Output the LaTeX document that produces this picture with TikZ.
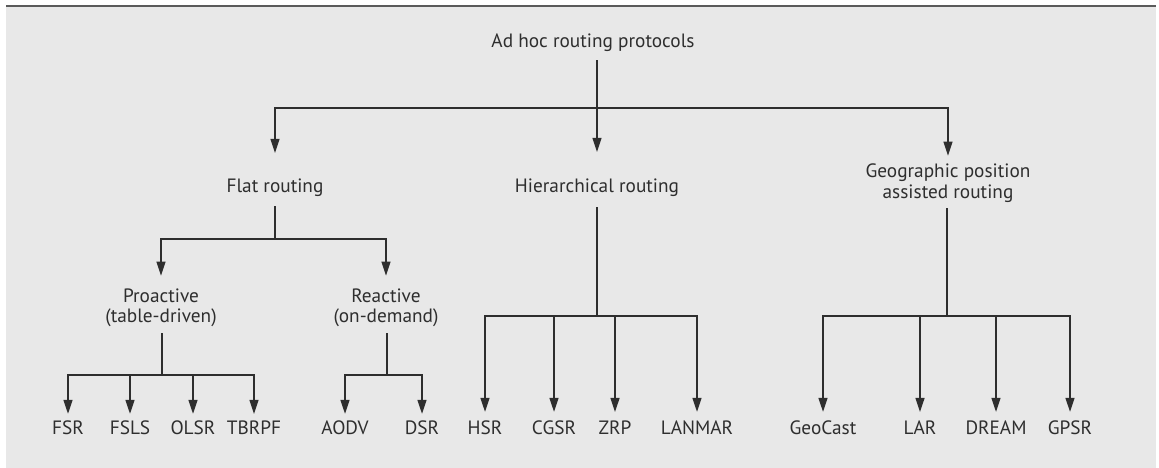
\documentclass[tikz,border=0pt]{standalone}
\usepackage{fontspec}
\setmainfont{PT Sans}
\usetikzlibrary{arrows.meta}
\definecolor{panel}{HTML}{E8E8E8}
\definecolor{ink}{HTML}{2E2E2E}
\definecolor{rule}{HTML}{5A5A5A}
\begin{document}
\begin{tikzpicture}[x=1pt,y=-1pt,
  lbl/.style={text=ink,font=\fontsize{19.3}{20.5}\selectfont,inner sep=0pt,align=center},
  link/.style={draw=ink,line width=1.3pt},
  arr/.style={link,-{Triangle[width=9pt,length=14pt]}}]
  % page and panel
  \useasboundingbox (0,0) rectangle (1159,468);
  \fill[white] (0,0) rectangle (1159,468);
  \fill[panel] (6,7) rectangle (1156,468);
  \draw[rule,line width=2pt] (6,6) -- (1156,6);

  % labels
  \node[lbl] (root) at (593,43) {Ad hoc routing protocols};
  \node[lbl] (flat) at (275,188) {Flat routing};
  \node[lbl] (hier) at (597,188) {Hierarchical routing};
  \node[lbl] (geo)  at (948,183) {Geographic position\\assisted routing};
  \node[lbl] (pro)  at (161,308) {Proactive\\(table-driven)};
  \node[lbl] (rea)  at (386,308) {Reactive\\(on-demand)};
  \foreach \n/\x in {FSR/68,FSLS/130,OLSR/193,TBRPF/254,AODV/345,DSR/422,
                     HSR/485,CGSR/554,ZRP/615,LANMAR/697,
                     GeoCast/823,LAR/920,DREAM/996,GPSR/1070}
    \node[lbl] (\n) at (\x,428) {\n};

  % junction points of the bars
  \coordinate (j0) at (597,108);
  \coordinate (jf) at (275,239);
  \coordinate (jh) at (597,316);
  \coordinate (jg) at (947,316);
  \coordinate (jp) at (162,375);
  \coordinate (jr) at (387,375);

  % top level
  \draw[link] (root.south -| j0) ++(0,8) -- (j0);
  \draw[arr,shorten >=26pt] (j0) -| (flat.north);
  \draw[arr,shorten >=27pt] (j0) -- (hier.north);
  \draw[arr,shorten >=8pt] (j0) -| (geo.north);

  % flat routing
  \draw[link] (flat.south -| jf) ++(0,9) -- (jf);
  \draw[arr,shorten >=13pt] (jf) -| (pro.north);
  \draw[arr,shorten >=13pt] (jf) -| (rea.north);

  % proactive and reactive
  \draw[link] (pro.south -| jp) ++(0,6) -- (jp);
  \foreach \c in {FSR,FSLS,OLSR,TBRPF}
    \draw[arr,shorten >=7pt] (jp) -| (\c.north);
  \draw[link] (rea.south -| jr) ++(0,6) -- (jr);
  \foreach \c in {AODV,DSR}
    \draw[arr,shorten >=7pt] (jr) -| (\c.north);

  % hierarchical routing
  \draw[link] (hier.south -| jh) ++(0,10) -- (jh);
  \foreach \c in {HSR,CGSR,ZRP,LANMAR}
    \draw[arr,shorten >=9pt] (jh) -| (\c.north);

  % geographic position assisted routing
  \draw[link] (geo.south -| jg) ++(0,6) -- (jg);
  \foreach \c in {GeoCast,LAR,DREAM,GPSR}
    \draw[arr,shorten >=9pt] (jg) -| (\c.north);
\end{tikzpicture}
\end{document}
